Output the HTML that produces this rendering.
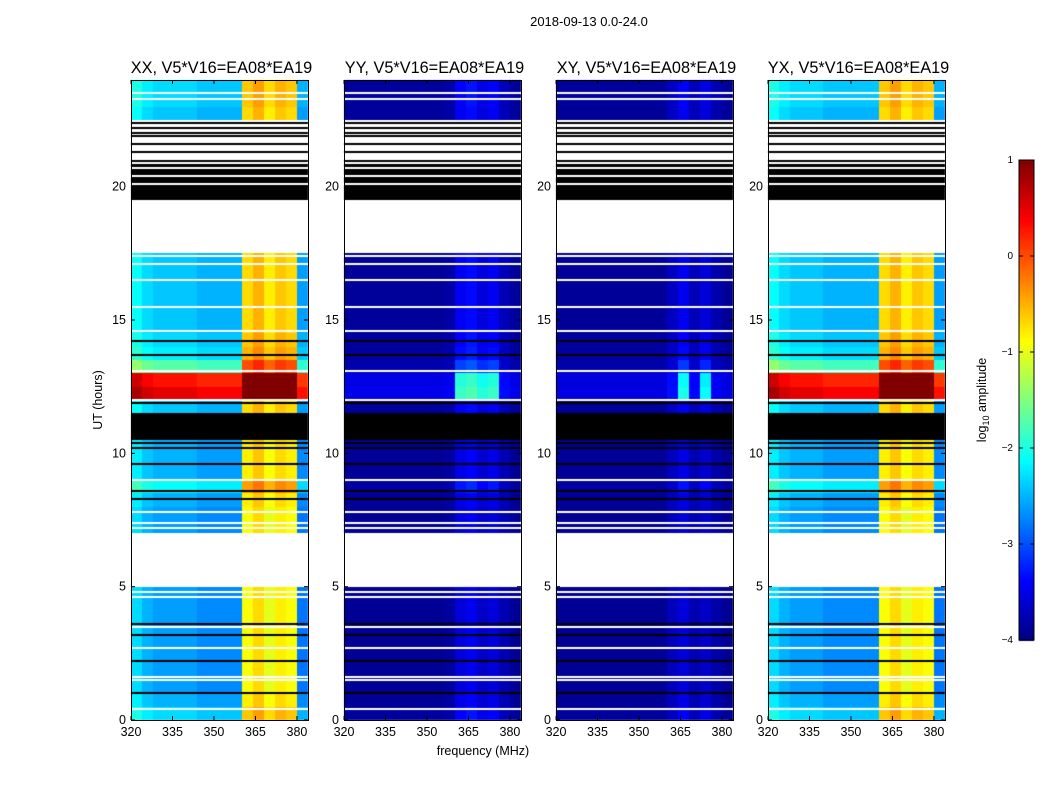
<!DOCTYPE html>
<html><head><meta charset="utf-8">
<style>
body{margin:0;background:#fff;width:1050px;height:800px;overflow:hidden;font-family:"Liberation Sans","DejaVu Sans",sans-serif}
#wrap{position:relative;width:1050px;height:800px}
canvas{position:absolute}
svg{position:absolute;left:0;top:0}
</style></head>
<body>
<div id="wrap">
<canvas id="hm" width="1050" height="800" style="left:0;top:0"></canvas>
<svg id="ax" width="1050" height="800"></svg>
</div>
<script>
// ---- data ----
const panelTitles = ["XX, V5*V16=EA08*EA19","YY, V5*V16=EA08*EA19","XY, V5*V16=EA08*EA19","YX, V5*V16=EA08*EA19"];
const freqBinStart = [320,324,328,332,336,340,344,348,352,356,360,364,368,372,376,380];
const freqXX = [-2.3,-2.5,-2.6,-2.6,-2.6,-2.6,-2.7,-2.7,-2.7,-2.7,-0.9,-0.7,-1.0,-0.8,-0.9,-2.8];
const freqYY = [-3.9,-3.9,-3.9,-3.9,-3.9,-3.9,-3.9,-3.9,-3.9,-3.85,-3.55,-3.45,-3.65,-3.55,-3.75,-3.9];
const freqXY = [-3.9,-3.9,-3.9,-3.9,-3.9,-3.9,-3.9,-3.9,-3.9,-3.9,-3.7,-3.55,-3.75,-3.65,-3.8,-3.9];
const freqYX = [-2.3,-2.5,-2.6,-2.6,-2.6,-2.7,-2.7,-2.7,-2.7,-2.7,-0.9,-0.7,-1.0,-0.8,-0.9,-2.8];
const eventGain = [1.0,0.55,0.5,1.0];
// per 0.5 h row: 0 data, 1 flagged (white), 2 flagged (black)
const rowFlag = [0,0,0,0,0,0,0,0,0,0, 1,1,1,1, 0,0,0,0,0,0,0, 2,2, 0,0,0,0,0,0,0,0,0,0,0,0, 1,1,1,1, 2,2,2, 1,1,1, 0,0,0];
const rowEvent = [0.3,0.1,0,0,0,0,0,0,0,0, 0,0,0,0, 0,0,0.1,0.5,0.1,0.1,0.1, 0,0, 0.2,3.1,2.9,0.9,0.4,0.3,0.2,0.2,0.2,0.2,0.2,0.2, 0,0,0,0, 0,0,0, 0,0,0, 0.2,0.3,0.3];
const whiteLines = [0.4,1.5,1.6,2.7,3.5,4.6,4.8,7.2,7.4,7.8,9.0,12.0,13.1,14.6,15.5,16.5,17.1,17.4,20.1,20.4,20.7,20.9,23.3,23.5];
const blackLines = [1.0,2.2,3.2,3.6,8.3,8.6,9.6,10.2,10.4,11.9,13.7,14.2,21.3,21.6,21.9,22.2,22.4,22.0];
const xTicks = [320,335,350,365,380];
const yTicks = [0,5,10,15,20];
const cbTicks = [-4,-3,-2,-1,0,1];
// ---- layout ----
const panelsX = [131,344,556,768], PW = 177, PT = 80, PB = 720;
const fMin = 320, fMax = 384, tMin = 0, tMax = 24, vMin = -4, vMax = 1;
const xs = (p,f)=>panelsX[p] + (f-fMin)/(fMax-fMin)*PW;
const ys = t=>PB - (t-tMin)/(tMax-tMin)*(PB-PT);
function jet(v){
  let t = Math.max(0,Math.min(1,(v-vMin)/(vMax-vMin)));
  const c = x=>Math.round(255*Math.max(0,Math.min(1,x)));
  return `rgb(${c(1.5-Math.abs(4*t-3))},${c(1.5-Math.abs(4*t-2))},${c(1.5-Math.abs(4*t-1))})`;
}
const profiles = [freqXX,freqYY,freqXY,freqYX];
const ctx = document.getElementById('hm').getContext('2d');
ctx.imageSmoothingEnabled=false;
for(let p=0;p<4;p++){
  for(let r=0;r<rowFlag.length;r++){
    const t0=r*0.5, t1=t0+0.5;
    const y0=Math.round(ys(t1)), y1=Math.round(ys(t0));
    for(let b=0;b<freqBinStart.length;b++){
      const f0=freqBinStart[b], f1=f0+4;
      let col;
      if(rowFlag[r]===1) col='#fff';
      else if(rowFlag[r]===2) col='#000';
      else {
        const inBand = profiles[p][b] > profiles[p][0]+0.2;
        const boost = rowEvent[r]*eventGain[p]*(inBand?1:(p===1||p===2?0.25:1));
        col = jet(profiles[p][b]+boost);
      }
      ctx.fillStyle=col;
      const x0=Math.round(xs(p,f0)), x1=Math.round(xs(p,f1));
      ctx.fillRect(x0,y0,x1-x0,y1-y0);
    }
  }
  ctx.fillStyle='#fff';
  whiteLines.forEach(h=>ctx.fillRect(panelsX[p],Math.round(ys(h))-1,PW,2));
  ctx.fillStyle='#000';
  blackLines.forEach(h=>ctx.fillRect(panelsX[p],Math.round(ys(h))-1,PW,2));
}
// colorbar
const cbX=1019, cbW=15, cbT=160, cbB=640;
for(let i=0;i<240;i++){
  const v=vMin+(i+0.5)/240*(vMax-vMin);
  const y=cbB-(v-vMin)/(vMax-vMin)*(cbB-cbT);
  ctx.fillStyle=jet(v); ctx.fillRect(cbX,Math.floor(y-1),cbW,3);
}
// ---- axes svg ----
const svg=document.getElementById('ax'); const NS='http://www.w3.org/2000/svg';
function el(tag,attrs,text){const e=document.createElementNS(NS,tag);for(const k in attrs)e.setAttribute(k,attrs[k]);if(text!==undefined)e.textContent=text;svg.appendChild(e);return e;}
let e=el('text',{x:589,y:26,'text-anchor':'middle','font-size':13},'2018-09-13 0.0-24.0');


for(let p=0;p<4;p++){
  e=el('rect',{x:panelsX[p]+0.5,y:PT+0.5,width:PW,height:PB-PT,fill:'none',stroke:'#000','stroke-width':1});
  
  
  e=el('text',{x:panelsX[p]+PW/2+2,y:73,'text-anchor':'middle','font-size':16.3},panelTitles[p]);
  
  
  xTicks.forEach(f=>{
    const x=xs(p,f);
    el('line',{x1:x,x2:x,y1:PB,y2:PB-4,stroke:'#000'});
    el('line',{x1:x,x2:x,y1:PT,y2:PT+4,stroke:'#000'});
    e=el('text',{x:x,y:PB+16,'text-anchor':'middle','font-size':12.5},String(f));
    
    
  });
  yTicks.forEach(t=>{
    const y=ys(t);
    el('line',{x1:panelsX[p],x2:panelsX[p]+4,y1:y,y2:y,stroke:'#000'});
    el('line',{x1:panelsX[p]+PW,x2:panelsX[p]+PW-4,y1:y,y2:y,stroke:'#000'});
    e=el('text',{x:panelsX[p]-5,y:y+4,'text-anchor':'end','font-size':12.5},String(t));
    
    
  });
}
e=el('text',{x:483,y:755,'text-anchor':'middle','font-size':12.5},'frequency (MHz)');


e=el('text',{x:0,y:0,'text-anchor':'middle','font-size':12.5,transform:'translate(102,400) rotate(-90)'},'UT (hours)');


e=el('rect',{x:cbX,y:cbT,width:cbW,height:cbB-cbT,fill:'none',stroke:'#000'});


cbTicks.forEach(v=>{
  const y=cbB-(v-vMin)/(vMax-vMin)*(cbB-cbT);
  el('line',{x1:cbX,x2:cbX+4,y1:y,y2:y,stroke:'#000'});
  el('line',{x1:cbX+cbW,x2:cbX+cbW-4,y1:y,y2:y,stroke:'#000'});
  e=el('text',{x:1013,y:y+3,'text-anchor':'end','font-size':10},v<0?'\u2212'+(-v):String(v));
  
  
});
e=el('text',{x:0,y:0,'text-anchor':'middle','font-size':12.5,transform:'translate(986,400) rotate(-90)'});
e.innerHTML='log<tspan font-size="9" dy="3">10</tspan><tspan dy="-3"> amplitude</tspan>';


</script>
</body></html>
